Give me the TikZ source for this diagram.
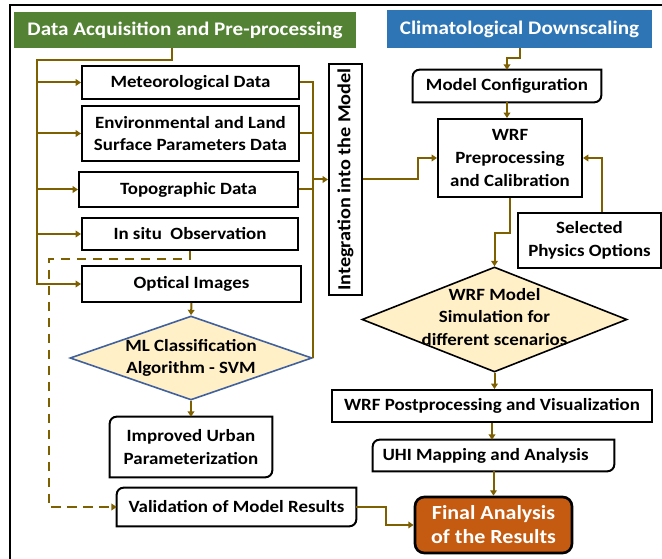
\documentclass[tikz,border=0pt]{standalone}
\usepackage{fontspec}
\setmainfont{Carlito}[FakeStretch=1.1]
\usetikzlibrary{arrows.meta,calc,shapes.geometric}

\definecolor{hdrgreen}{HTML}{548235}
\definecolor{hdrblue}{HTML}{2E75B6}
\definecolor{linkcol}{HTML}{7F6000}
\definecolor{decfill}{HTML}{FFF0C8}
\definecolor{decblue}{HTML}{41619E}
\definecolor{finalfill}{HTML}{C55A11}

\def\u{0.75pt}

\tikzset{
  boxtext/.style={font=\bfseries\fontsize{12.9}{17}\selectfont, align=center, inner sep=0pt},
  box/.style={boxtext, draw=black, line width=1.5pt},
  plainbox/.style={boxtext},
  header/.style={font=\bfseries\fontsize{14.4}{16}\selectfont, text=white, inner sep=0pt},
  decision/.style={diamond, draw, line width=1.2pt, fill=decfill, inner sep=0pt},
  conn/.style={draw=linkcol, line width=1.5pt},
  tip/.style={-{Triangle[width=5pt,length=4pt]}},
  boxline/.style={draw=black, line width=1.5pt},
}

% box with rounded top-left and bottom-right corners
\newcommand\diagframe[1]{%
  \draw[boxline] ([yshift=-5pt]#1.north west) arc[start angle=180, end angle=90, radius=5pt]
    -- (#1.north east) -- ([yshift=5pt]#1.south east) arc[start angle=0, end angle=-90, radius=5pt]
    -- (#1.south west) -- cycle;}

\begin{document}
\begin{tikzpicture}[x=0.75pt, y=-0.75pt]
\useasboundingbox (0,0) rectangle (662,559);

% outer frame
\draw[line width=1.5pt] (10,559) -- (10,5) -- (662,5);

% headers
\node[header, fill=hdrgreen, minimum width=342*\u, minimum height=36*\u] (green) at (185,30)
  {Data Acquisition and Pre-processing};
\node[header, fill=hdrblue, minimum width=265*\u, minimum height=38*\u] (blue) at (519.5,29)
  {Climatological Downscaling};

% data sources
\node[box, minimum width=217*\u, minimum height=33*\u] (met) at (190.5,82.5) {Meteorological Data};
\node[box, minimum width=217*\u, minimum height=55*\u] (env) at (190.5,133.5)
  {Environmental and Land\\Surface Parameters Data};
\node[box, minimum width=219*\u, minimum height=35*\u] (topo) at (188.5,189.5) {Topographic Data};
\node[box, minimum width=216*\u, minimum height=32*\u] (insitu) at (190,234) {In situ\ \ Observation};
\node[box, minimum width=219*\u, minimum height=36*\u] (optical) at (191.5,284) {Optical Images};

\node[decision, draw=decblue, minimum width=242*\u, minimum height=84*\u] (ml) at (191,358) {};
\node[boxtext] at (ml.center) {ML Classification\\Algorithm - SVM};

\node[plainbox, minimum width=162*\u, minimum height=60*\u] (improved) at (191,447)
  {Improved Urban\\Parameterization};
\diagframe{improved}
\node[plainbox, minimum width=239*\u, minimum height=38*\u] (valid) at (236.5,507)
  {Validation of Model Results};
\diagframe{valid}

\node[box, font=\bfseries\fontsize{13.8}{16}\selectfont, minimum width=33*\u, minimum height=231*\u]
  (integ) at (345.5,179.5) {\rotatebox{90}{Integration into the Model}};

% downscaling chain
\node[plainbox, minimum width=188*\u, minimum height=32*\u] (modelcfg) at (507,86) {Model Configuration};
\diagframe{modelcfg}
\node[box, minimum width=144*\u, minimum height=78*\u] (wrfprep) at (510,158)
  {WRF\\Preprocessing\\and Calibration};
\node[box, minimum width=143*\u, minimum height=55*\u] (physics) at (589.5,240.5)
  {Selected\\Physics Options};
\node[decision, minimum width=265*\u, minimum height=105*\u] (wrfsim) at (494.5,319.5) {};
\node[boxtext] at ([yshift=2pt]wrfsim.center) {WRF Model\\Simulation for\\different scenarios};
\node[box, minimum width=320*\u, minimum height=32*\u] (post) at (492,406)
  {WRF Postprocessing and Visualization};
\node[plainbox, minimum width=241*\u, minimum height=31*\u] (uhi) at (493.5,455.5)
  {\hspace*{-12pt}UHI Mapping and Analysis};
\diagframe{uhi}
\node[boxtext, font=\bfseries\fontsize{15}{18}\selectfont, draw=black, line width=2pt,
  rounded corners=7pt, fill=finalfill, text=white,
  minimum width=157*\u, minimum height=56*\u] (final) at (493.5,525)
  {Final Analysis\\of the Results};

% left feed lines
\coordinate (lbus) at (37,60);
\draw[conn, tip] ($(green.south)+(-13,0)$) |- (lbus) |- (optical.west);
\foreach \n in {met,env,topo,insitu}
  \draw[conn, tip] (lbus |- \n.west) -- (\n.west);

% right collector bus into the integration step
\draw[conn] (met.east) -| (ml.east);
\draw[conn] (env.east) -- (env.east -| ml.east);
\draw[conn] (topo.east) -- (topo.east -| ml.east);
\draw[conn, tip] (integ.west -| ml.east) -- (integ.west);

\draw[conn, tip] (optical.south) -- (ml.north);
\draw[conn, tip] (ml.south) -- (improved.north);

% observation used for validation
\draw[conn, dashed, dash pattern=on 7pt off 5pt, tip] (insitu.south) -- ++(0,8)
  -| ($(valid.west)+(-68,0)$) -- (valid.west);

% downscaling connectors
\draw[conn, tip] (integ.east) -- ++(55,0) |- (wrfprep.west);
\draw[conn, tip] (blue.south) -- ++(0,10) -| (modelcfg.north);
\draw[conn, tip] (modelcfg.south) -- (modelcfg.south |- wrfprep.north);
\draw[conn, tip] ($(physics.north)+(12.5,0)$) |- (wrfprep.east);
\draw[conn, tip] (wrfprep.south) -- ++(0,35) -| (wrfsim.north);
\draw[conn, tip] (wrfsim.south) -- (wrfsim.south |- post.north);
\draw[conn, tip] (post.south) -- (post.south |- uhi.north);
\draw[conn, tip] (uhi.south) -- (uhi.south |- final.north);
\draw[conn, tip] (valid.east) -- ++(30,0) |- (final.west);
\end{tikzpicture}
\end{document}
